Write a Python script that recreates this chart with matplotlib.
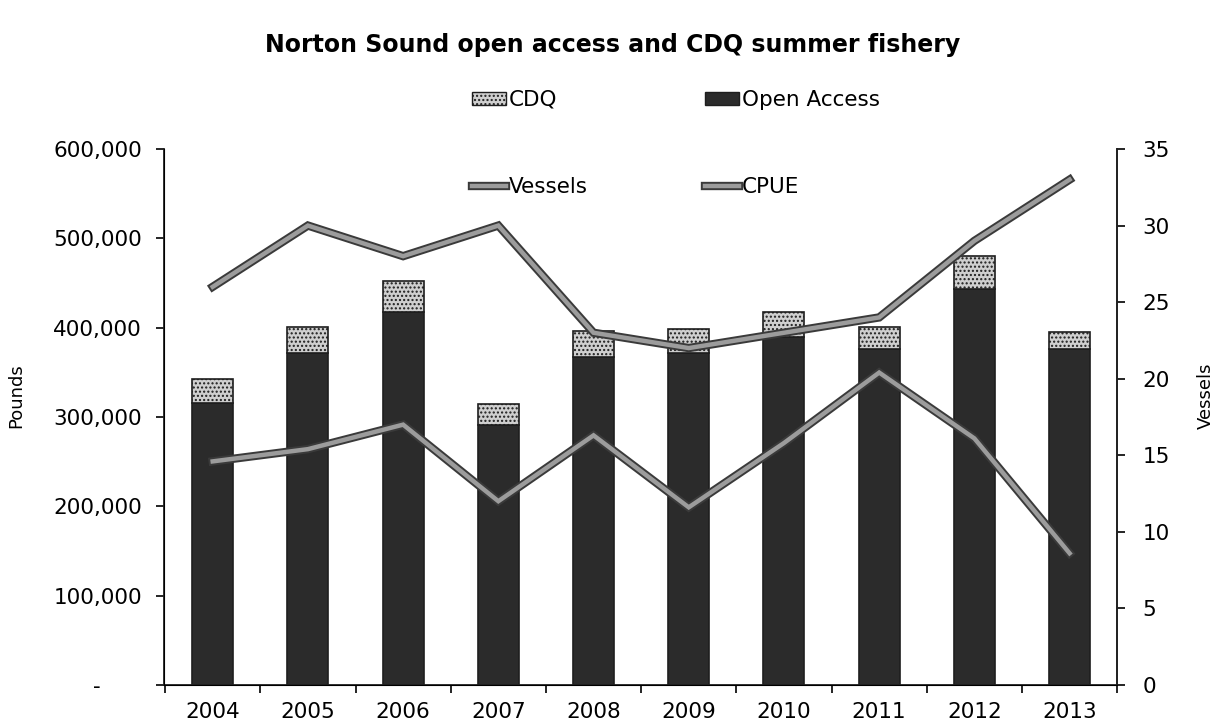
import numpy as np
import matplotlib
matplotlib.use("Agg")
import matplotlib.pyplot as plt
import matplotlib.patheffects as pe
from matplotlib.patches import Patch
from matplotlib.lines import Line2D


years = ['2004', '2005', '2006', '2007', '2008', '2009', '2010', '2011', '2012', '2013']
open_access = [316000, 372000, 418000, 291000, 367000, 372000, 390000, 376000, 443000, 376000]
cdq = [26000, 29000, 34000, 24000, 29000, 26000, 28000, 25000, 37000, 19000]
vessels = [26, 30, 28, 30, 23, 22, 23, 24, 29, 33]
cpue = [14.6, 15.4, 17.0, 12.0, 16.3, 11.6, 15.8, 20.4, 16.1, 8.6]

left_ticks = [0, 100000, 200000, 300000, 400000, 500000, 600000]
left_labels = ['-      ', '100,000', '200,000', '300,000', '400,000', '500,000', '600,000']
right_ticks = [0, 5, 10, 15, 20, 25, 30, 35]

plt.rcParams['font.family'] = ['DejaVu Sans']

fig = plt.figure(figsize=(12.25, 7.26), dpi=100)
ax = fig.add_axes([0.134, 0.0565, 0.778, 0.7383])

x = np.arange(len(years))
w = 0.43
dark = '#2b2b2b'
light = '#cfcfcf'
edge = '#1e1e1e'
fs = 15.5

ax.bar(x, open_access, w, color=dark, edgecolor=edge, linewidth=1.2, zorder=2)
ax.bar(x, cdq, w, bottom=open_access, color=light, edgecolor=edge,
       linewidth=1.2, hatch='....', zorder=2)

ax.set_xlim(-0.51, 9.5)
ax.set_ylim(0, 600000)
ax.set_yticks(left_ticks)
ax.set_yticklabels(left_labels)
ax.set_xticks(x)
ax.set_xticklabels(years)
ax.set_xticks(np.arange(-0.5, 10, 1), minor=True)
ax.tick_params(axis='x', which='major', length=0, pad=12, labelsize=fs)
ax.tick_params(axis='x', which='minor', length=6, width=1.2, direction='out')
ax.tick_params(axis='y', length=6, width=1.2, direction='out', pad=10, labelsize=fs)
ax.spines['top'].set_visible(False)
for s in ['left', 'bottom', 'right']:
    ax.spines[s].set_linewidth(1.3)
    ax.spines[s].set_color('#222222')

ax2 = ax.twinx()
ax2.set_ylim(0, 35)
ax2.set_yticks(right_ticks)
ax2.tick_params(axis='y', length=6, width=1.2, direction='out', pad=12, labelsize=fs)
ax2.spines['top'].set_visible(False)
ax2.spines['right'].set_linewidth(1.3)
ax2.spines['right'].set_color('#222222')

line_fx = [pe.Stroke(linewidth=6, foreground='#3a3a3a'), pe.Normal()]
ax2.plot(x, vessels, color='#9c9c9c', linewidth=3.2, solid_joinstyle='miter',
         path_effects=line_fx, zorder=3)
ax2.plot(x, cpue, color='#9c9c9c', linewidth=3.2, solid_joinstyle='miter',
         path_effects=line_fx, zorder=3)

fig.text(0.5, 0.938, 'Norton Sound open access and CDQ summer fishery',
         ha='center', va='center', fontsize=17, fontweight='bold')
fig.text(0.013, 0.455, 'Pounds', rotation=90, ha='center', va='center', fontsize=13)
fig.text(0.984, 0.455, 'Vessels', rotation=90, ha='center', va='center', fontsize=13)

# legend entries placed one by one so the columns line up
leg_kw = dict(frameon=False, fontsize=fs, handlelength=1.6, handleheight=0.55,
              handletextpad=0.1, borderpad=0, borderaxespad=0, loc='center left')
fig.legend(handles=[Patch(facecolor=light, edgecolor=edge, hatch='....', label='CDQ')],
           bbox_to_anchor=(472 / 1225, 1 - 100 / 726), **leg_kw)
fig.legend(handles=[Patch(facecolor=dark, edgecolor=edge, label='Open Access')],
           bbox_to_anchor=(705 / 1225, 1 - 100 / 726), **leg_kw)
fig.legend(handles=[Line2D([], [], color='#9c9c9c', linewidth=3.2, path_effects=line_fx,
                           label='Vessels')],
           bbox_to_anchor=(472 / 1225, 1 - 187 / 726), **leg_kw)
fig.legend(handles=[Line2D([], [], color='#9c9c9c', linewidth=3.2, path_effects=line_fx,
                           label='CPUE')],
           bbox_to_anchor=(705 / 1225, 1 - 187 / 726), **leg_kw)

fig.savefig('out.png', dpi=100)
